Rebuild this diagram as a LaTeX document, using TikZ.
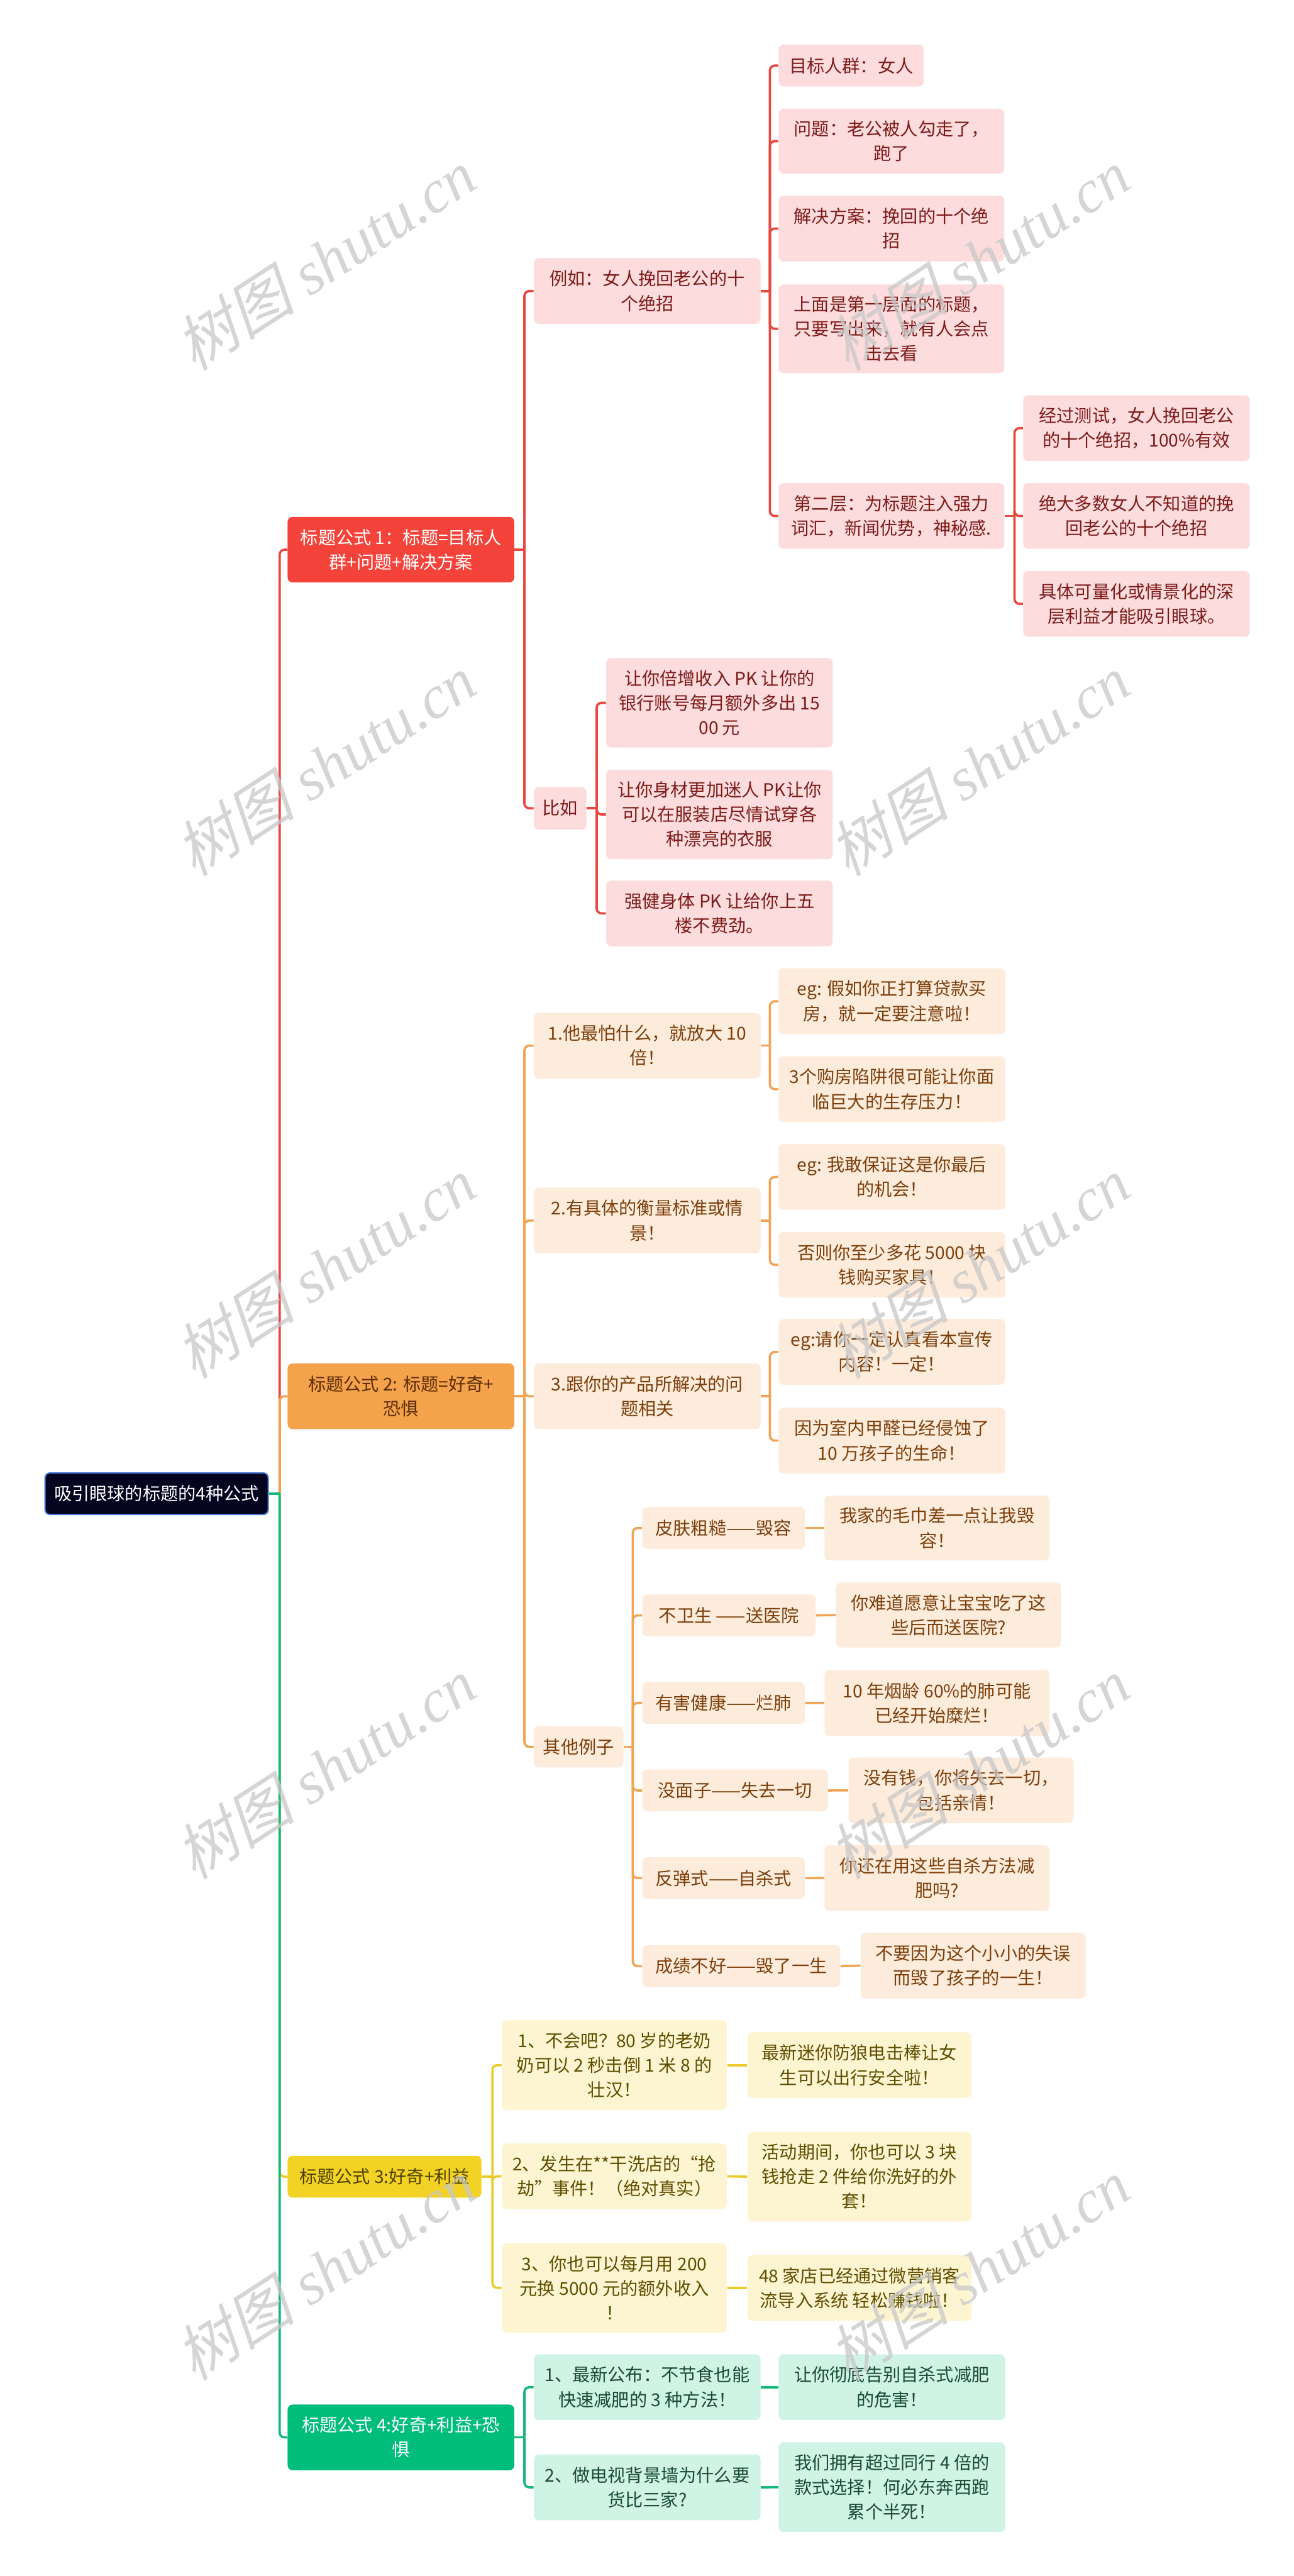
\documentclass[tikz,border=0pt]{standalone}
\usepackage{fontspec}
\newfontfamily\cjk{Noto Sans CJK SC}
\newfontfamily\wmcjk[FakeSlant=0.25]{Noto Sans CJK SC}
\newfontfamily\wmlat{Liberation Serif}
\usetikzlibrary{calc}
\definecolor{rootfill}{HTML}{04041F}
\definecolor{rootedge}{HTML}{4A78D6}
\definecolor{redfill}{HTML}{F4433A}
\definecolor{pinkfill}{HTML}{FCDCDC}
\definecolor{pinktext}{HTML}{7D1A1A}
\definecolor{redline}{HTML}{E8483F}
\definecolor{orfill}{HTML}{F5A24C}
\definecolor{ortext}{HTML}{5B2E05}
\definecolor{peachfill}{HTML}{FDEBDB}
\definecolor{peachtext}{HTML}{7B3F0C}
\definecolor{orline}{HTML}{F0A555}
\definecolor{yefill}{HTML}{F2D325}
\definecolor{yetext}{HTML}{4D4000}
\definecolor{creamfill}{HTML}{FDF5D2}
\definecolor{creamtext}{HTML}{5E4E00}
\definecolor{yeline}{HTML}{EBCB2A}
\definecolor{grfill}{HTML}{00BD7B}
\definecolor{mintfill}{HTML}{CFF3E4}
\definecolor{minttext}{HTML}{1A4A38}
\definecolor{grline}{HTML}{14B87A}
\definecolor{wmgray}{HTML}{C8C8C8}
\tikzset{
  box/.style={rounded corners=3pt, inner sep=0pt, align=center, anchor=north west,
    font=\cjk\fontsize{10.8}{15}\selectfont},
  rootbox/.style={box, fill=rootfill, draw=rootedge, line width=0.8pt, text=white},
  redtop/.style={box, fill=redfill, text=white},
  pinkbox/.style={box, fill=pinkfill, text=pinktext},
  ortop/.style={box, fill=orfill, text=ortext},
  peachbox/.style={box, fill=peachfill, text=peachtext},
  yetop/.style={box, fill=yefill, text=yetext},
  creambox/.style={box, fill=creamfill, text=creamtext},
  grtop/.style={box, fill=grfill, text=white},
  mintbox/.style={box, fill=mintfill, text=minttext},
  conn/.style={line width=1.4pt, rounded corners=3pt},
  redl/.style={conn, draw=redline},
  orl/.style={conn, draw=orline},
  yel/.style={conn, draw=yeline},
  grl/.style={conn, draw=grline},
  wmark/.style={rotate=33, text=wmgray, opacity=0.75, inner sep=0pt}
}
\newcommand\mmnode[7]{\node[#2, minimum width=#5pt, minimum height=#6pt] (#1) at (#3,#4) {#7};}
\begin{document}
\begin{tikzpicture}[x=1pt,y=-1pt]
\fill[white] (0,0) rectangle (788,1568.6);
\useasboundingbox (0,0) rectangle (788,1568.6);

% ---------- nodes ----------
\mmnode{root}{rootbox}{27}{896.5}{136}{25.3}{吸引眼球的标题的4种公式}

\mmnode{La}{redtop}{175}{314.5}{138}{40}{标题公式 1：标题=目标人\\群+问题+解决方案}
\mmnode{Lb}{ortop}{175}{830}{138}{40}{标题公式 2: 标题=好奇+\\恐惧}
\mmnode{Lc}{yetop}{175}{1312.5}{118}{25.5}{标题公式 3:好奇+利益}
\mmnode{Ld}{grtop}{175}{1464}{138}{40}{标题公式 4:好奇+利益+恐\\惧}

% branch 1
\mmnode{a1}{pinkbox}{325}{157}{138}{40}{例如：女人挽回老公的十\\个绝招}
\mmnode{a2}{pinkbox}{325}{479}{32}{26}{比如}
\mmnode{a11}{pinkbox}{474}{27}{88.5}{25.5}{目标人群：女人}
\mmnode{a12}{pinkbox}{474}{66}{137.5}{39.5}{问题：老公被人勾走了，\\跑了}
\mmnode{a13}{pinkbox}{474}{119}{137.5}{40}{解决方案：挽回的十个绝\\招}
\mmnode{a14}{pinkbox}{474}{173}{137.5}{54}{上面是第一层面的标题，\\只要写出来，就有人会点\\击去看}
\mmnode{a15}{pinkbox}{474}{294}{137.5}{40}{第二层：为标题注入强力\\词汇，新闻优势，神秘感.}
\mmnode{a151}{pinkbox}{623}{240.5}{138}{40}{经过测试，女人挽回老公\\的十个绝招，100\%有效}
\mmnode{a152}{pinkbox}{623}{294}{138}{40}{绝大多数女人不知道的挽\\回老公的十个绝招}
\mmnode{a153}{pinkbox}{623}{347.5}{138}{40}{具体可量化或情景化的深\\层利益才能吸引眼球。}
\mmnode{a21}{pinkbox}{369}{400.5}{138}{54.5}{让你倍增收入 PK 让你的\\银行账号每月额外多出 15\\00 元}
\mmnode{a22}{pinkbox}{369}{468.5}{138}{54.5}{让你身材更加迷人 PK让你\\可以在服装店尽情试穿各\\种漂亮的衣服}
\mmnode{a23}{pinkbox}{369}{536}{138}{40}{强健身体 PK 让给你上五\\楼不费劲。}

% branch 2
\mmnode{b1}{peachbox}{325}{616.5}{138}{40}{1.他最怕什么，就放大 10\\倍！}
\mmnode{b11}{peachbox}{474}{589.5}{138}{40}{eg: 假如你正打算贷款买\\房，就一定要注意啦！}
\mmnode{b12}{peachbox}{474}{643}{138}{40}{3个购房陷阱很可能让你面\\临巨大的生存压力！}
\mmnode{b2}{peachbox}{325}{723}{138}{40}{2.有具体的衡量标准或情\\景！}
\mmnode{b21}{peachbox}{474}{696.5}{138}{40}{eg: 我敢保证这是你最后\\的机会！}
\mmnode{b22}{peachbox}{474}{750}{138}{40}{否则你至少多花 5000 块\\钱购买家具！}
\mmnode{b3}{peachbox}{325}{830}{138}{40}{3.跟你的产品所解决的问\\题相关}
\mmnode{b31}{peachbox}{474}{803}{138}{40}{eg:请你一定认真看本宣传\\内容！一定！}
\mmnode{b32}{peachbox}{474}{857}{138}{40}{因为室内甲醛已经侵蚀了\\10 万孩子的生命！}
\mmnode{b4}{peachbox}{325}{1051}{54.5}{25}{其他例子}
\mmnode{b41}{peachbox}{391}{917.5}{99}{25.5}{皮肤粗糙——毁容}
\mmnode{b41c}{peachbox}{502}{910.5}{137}{39.5}{我家的毛巾差一点让我毁\\容！}
\mmnode{b42}{peachbox}{391}{970.7}{105.5}{25.5}{不卫生 ——送医院}
\mmnode{b42c}{peachbox}{509}{963.5}{137}{39.5}{你难道愿意让宝宝吃了这\\些后而送医院?}
\mmnode{b43}{peachbox}{391}{1024}{99}{25.5}{有害健康——烂肺}
\mmnode{b43c}{peachbox}{502}{1016.8}{137}{40}{10 年烟龄 60\%的肺可能\\已经开始糜烂！}
\mmnode{b44}{peachbox}{391}{1077.3}{113}{25.5}{没面子——失去一切}
\mmnode{b44c}{peachbox}{516.6}{1070}{137}{40}{没有钱，你将失去一切，\\包括亲情！}
\mmnode{b45}{peachbox}{391}{1130.7}{99}{25.5}{反弹式——自杀式}
\mmnode{b45c}{peachbox}{502}{1123.4}{137}{40}{你还在用这些自杀方法减\\肥吗?}
\mmnode{b46}{peachbox}{391}{1184.3}{120.6}{25.5}{成绩不好——毁了一生}
\mmnode{b46c}{peachbox}{524}{1176.7}{137}{40}{不要因为这个小小的失误\\而毁了孩子的一生！}

% branch 3
\mmnode{c1}{creambox}{305.5}{1230}{137}{54.6}{1、不会吧？80 岁的老奶\\奶可以 2 秒击倒 1 米 8 的\\壮汉！}
\mmnode{c1c}{creambox}{455}{1237.3}{136.5}{40}{最新迷你防狼电击棒让女\\生可以出行安全啦！}
\mmnode{c2}{creambox}{305.5}{1305}{137}{40}{2、发生在**干洗店的“抢\\劫”事件！（绝对真实）}
\mmnode{c2c}{creambox}{455}{1298}{136.5}{54.5}{活动期间，你也可以 3 块\\钱抢走 2 件给你洗好的外\\套！}
\mmnode{c3}{creambox}{305.5}{1365.7}{137}{54.5}{3、你也可以每月用 200\\元换 5000 元的额外收入\\！}
\mmnode{c3c}{creambox}{455}{1373}{136.5}{40}{48 家店已经通过微营销客\\流导入系统 轻松赚钱啦！}

% branch 4
\mmnode{d1}{mintbox}{325}{1433.4}{138}{40}{1、最新公布：不节食也能\\快速减肥的 3 种方法！}
\mmnode{d1c}{mintbox}{474}{1433.4}{138}{40}{让你彻底告别自杀式减肥\\的危害！}
\mmnode{d2}{mintbox}{325}{1494.4}{138}{40}{2、做电视背景墙为什么要\\货比三家?}
\mmnode{d2c}{mintbox}{474}{1487}{138}{54.6}{我们拥有超过同行 4 倍的\\款式选择！何必东奔西跑\\累个半死！}

% ---------- connectors ----------
% root -> level 1
\foreach \c/\s in {La/redl, Lb/orl, Lc/yel, Ld/grl}
  \draw[\s] ($(root.east)+(6.5,0)$) |- (\c.west);
\draw[grl] (root.east) -- ++(6.5,0);

% branch 1
\draw[redl] (La.east) -- ++(6,0);
\foreach \c in {a1,a2} \draw[redl] ($(La.east)+(6,0)$) |- (\c.west);
\draw[redl] (a1.east) -- ++(5.5,0);
\foreach \c in {a11,a12,a13,a14,a15} \draw[redl] ($(a1.east)+(5.5,0)$) |- (\c.west);
\draw[redl] (a15.east) -- ++(6,0);
\foreach \c in {a151,a152,a153} \draw[redl] ($(a15.east)+(6,0)$) |- (\c.west);
\draw[redl] (a2.east) -- ++(6,0);
\foreach \c in {a21,a22,a23} \draw[redl] ($(a2.east)+(6,0)$) |- (\c.west);

% branch 2
\draw[orl] (Lb.east) -- ++(6,0);
\foreach \c in {b1,b2,b3,b4} \draw[orl] ($(Lb.east)+(6,0)$) |- (\c.west);
\foreach \p/\q/\r in {b1/b11/b12, b2/b21/b22, b3/b31/b32} {
  \draw[orl] (\p.east) -- ++(5.5,0);
  \draw[orl] ($(\p.east)+(5.5,0)$) |- (\q.west);
  \draw[orl] ($(\p.east)+(5.5,0)$) |- (\r.west);
}
\draw[orl] (b4.east) -- ++(5.5,0);
\foreach \c in {b41,b42,b43,b44,b45,b46} {
  \draw[orl] ($(b4.east)+(5.5,0)$) |- (\c.west);
  \draw[orl] (\c.east) -- (\c c.west);
}

% branch 3
\draw[yel] (Lc.east) -- ++(6.5,0);
\foreach \c in {c1,c2,c3} {
  \draw[yel] ($(Lc.east)+(6.5,0)$) |- (\c.west);
  \draw[yel] (\c.east) -- (\c c.west);
}

% branch 4
\draw[grl] (Ld.east) -- ++(6,0);
\foreach \c in {d1,d2} {
  \draw[grl] ($(Ld.east)+(6,0)$) |- (\c.west);
  \draw[grl] (\c.east) -- (\c c.west);
}

% ---------- watermarks ----------
\foreach \wx in {198,596}
  \foreach \wy in {158,466,772,1077,1382}
    \node[wmark] at (\wx,\wy) {\fontsize{37}{37}\selectfont\wmcjk 树图\hspace{0.25em}\wmlat\itshape shutu.cn};
\end{tikzpicture}
\end{document}
